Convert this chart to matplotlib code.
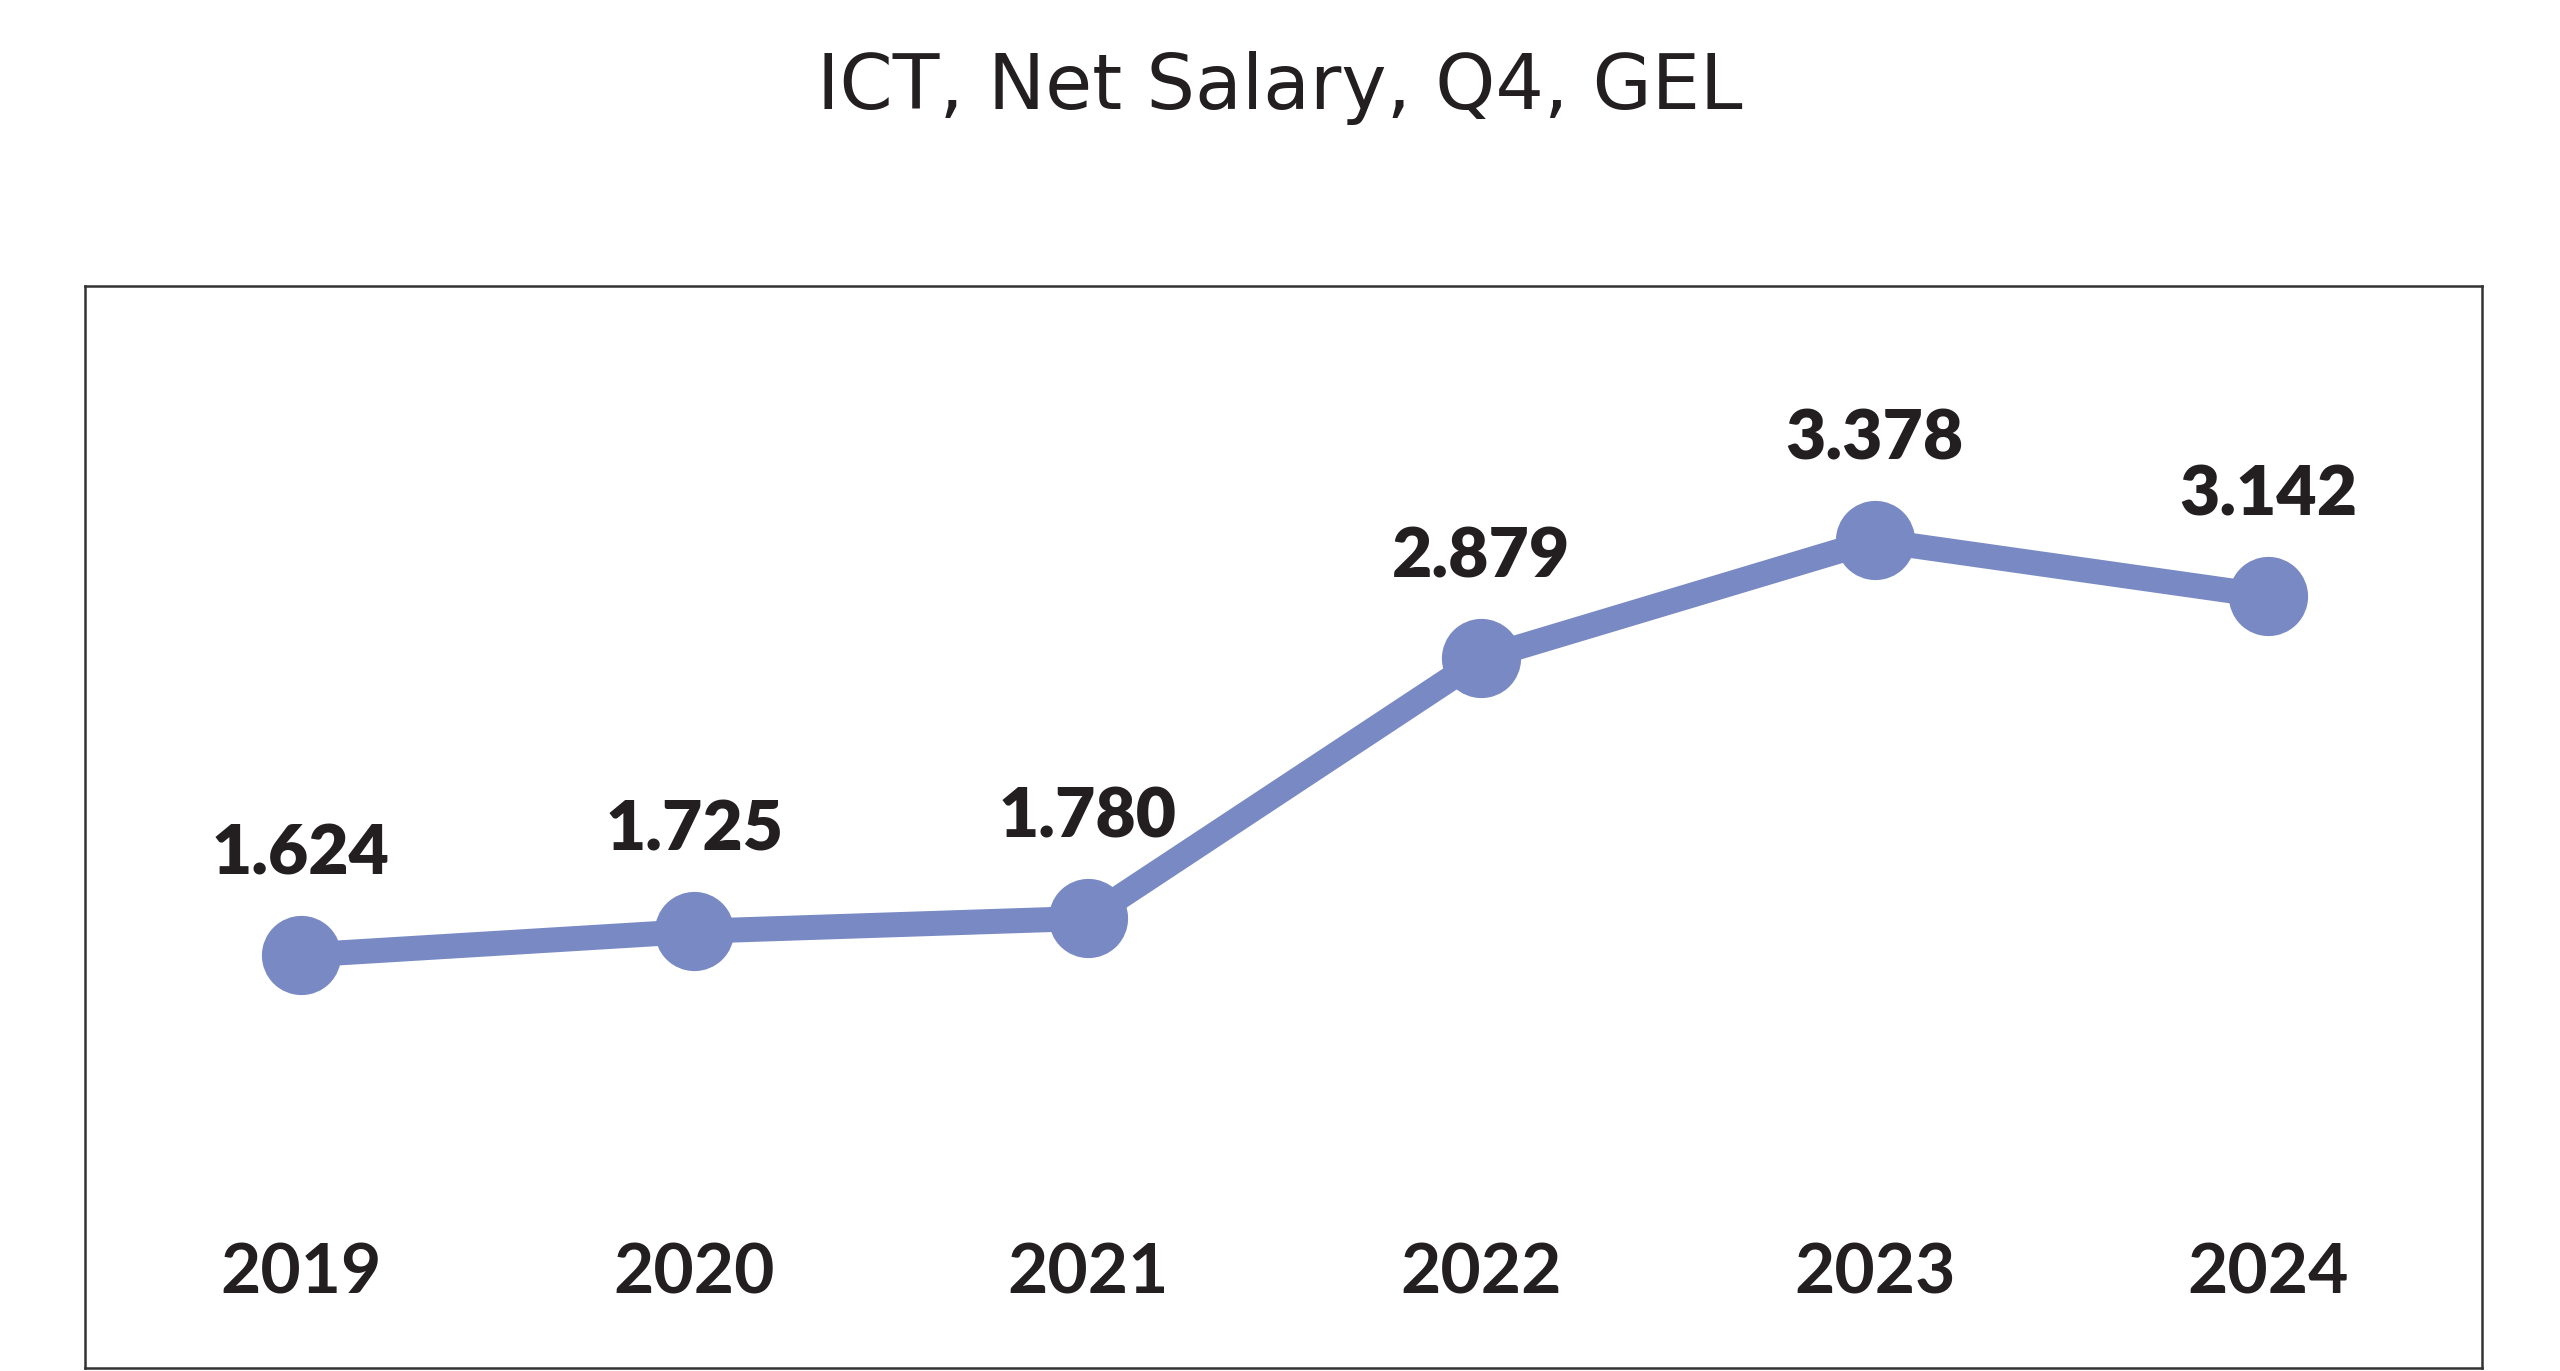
import matplotlib.pyplot as plt

# chart data
years = ["2019", "2020", "2021", "2022", "2023", "2024"]
salary = [1.624, 1.725, 1.780, 2.879, 3.378, 3.142]
value_labels = ["1.624", "1.725", "1.780", "2.879", "3.378", "3.142"]

line_color = "#7889C4"
text_color = "#231F20"

fig = plt.figure(figsize=(25.6, 13.71), dpi=100)
ax = fig.add_axes([0.0332, 0.002, 0.9363, 0.7892])

x = list(range(len(years)))
ax.plot(x, salary, color=line_color, linewidth=18, marker="o",
        markersize=56, solid_capstyle="round", zorder=3)

# value labels above each point
for xi, yi, lab in zip(x, salary, value_labels):
    ax.annotate(lab, (xi, yi), xytext=(0, 72), textcoords="offset points",
                ha="center", va="center", fontsize=50, fontweight="heavy",
                family="Lato", color=text_color)

# year labels inside the frame
for xi, yr in zip(x, years):
    ax.text(xi, 0.087, yr, transform=ax.get_xaxis_transform(),
            ha="center", va="center", fontsize=50, fontweight="bold",
            family="Lato", color=text_color)

ax.set_xlim(-0.548, 5.543)
ax.set_ylim(-0.122, 4.452)
ax.set_xticks([])
ax.set_yticks([])
for sp in ax.spines.values():
    sp.set_linewidth(1.8)
    sp.set_color("#333333")

fig.text(0.5, 0.936, "ICT, Net Salary, Q4, GEL", ha="center", va="center",
         fontsize=55, color=text_color, family="DejaVu Sans")

fig.savefig("out.png", dpi=100, facecolor="white")
